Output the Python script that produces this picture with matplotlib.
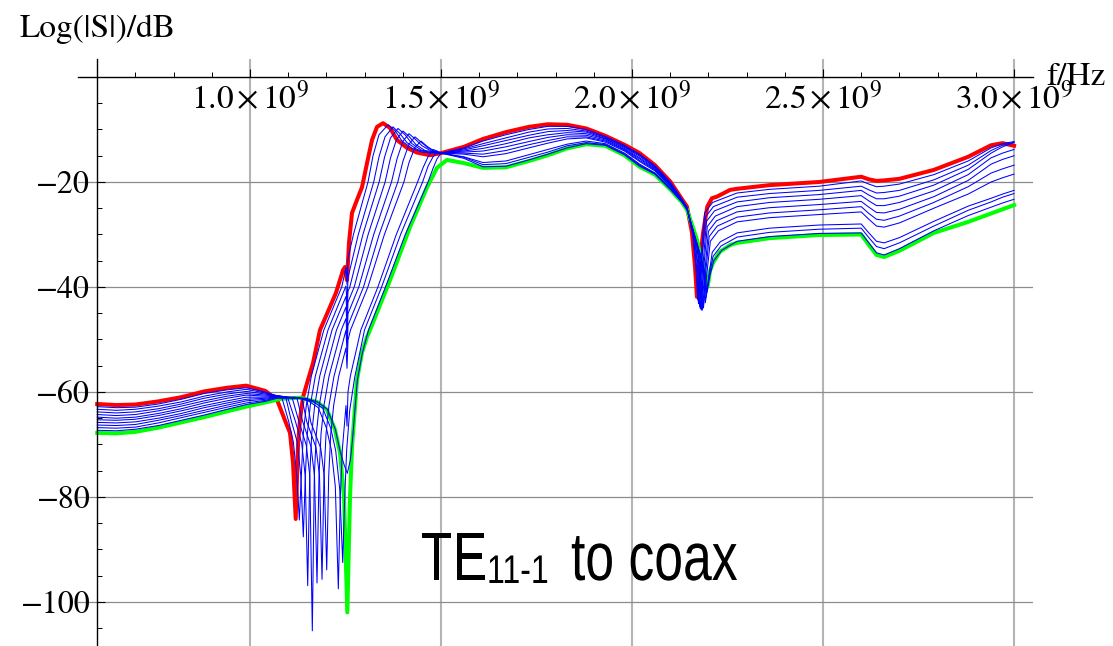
import numpy as np
import matplotlib
matplotlib.use("Agg")
from matplotlib import pyplot as plt
from matplotlib.ticker import MultipleLocator
from matplotlib.textpath import TextPath
from matplotlib.patches import PathPatch
from matplotlib.font_manager import FontProperties
from matplotlib.transforms import Affine2D

plt.rcParams['font.family'] = ['STIXGeneral', 'DejaVu Sans']
plt.rcParams['mathtext.fontset'] = 'stix'

# frequencies in GHz, levels in dB, all read off the picture
# traces: red (first), 10 blue, green (last)

# ---- 0.6 .. 1.04 GHz, common grid ----
f_low = [0.60, 0.65, 0.70, 0.76, 0.82, 0.88, 0.94, 0.99, 1.04]
red_low = [-62.3, -62.5, -62.4, -61.8, -61.0, -59.9, -59.2, -58.8, -59.8]
green_low = [-67.8, -67.9, -67.6, -66.8, -65.8, -64.8, -63.7, -62.8, -62.0]
blue_low = [
    [-62.8, -63.0, -62.9, -62.3, -61.4, -60.3, -59.6, -59.2, -60.0],
    [-63.3, -63.5, -63.3, -62.7, -61.9, -60.8, -60.0, -59.5, -60.2],
    [-63.8, -64.0, -63.8, -63.2, -62.3, -61.2, -60.4, -59.9, -60.4],
    [-64.3, -64.5, -64.3, -63.6, -62.7, -61.7, -60.8, -60.3, -60.6],
    [-64.8, -65.0, -64.8, -64.1, -63.2, -62.1, -61.2, -60.6, -60.8],
    [-65.3, -65.4, -65.2, -64.5, -63.6, -62.6, -61.7, -61.0, -61.0],
    [-65.8, -65.9, -65.7, -65.0, -64.1, -63.0, -62.1, -61.4, -61.2],
    [-66.3, -66.4, -66.2, -65.4, -64.5, -63.5, -62.5, -61.7, -61.4],
    [-66.8, -66.9, -66.7, -65.9, -64.9, -63.9, -62.9, -62.1, -61.6],
    [-67.3, -67.4, -67.1, -66.4, -65.4, -64.4, -63.3, -62.4, -61.8],
]

# ---- first notch and steep rise, 1.07 .. 1.5 GHz, own points per trace ----
red_n1_f = [1.0707, 1.0942, 1.1047, 1.1126, 1.1196, 1.1257, 1.1309, 1.1387, 1.1518, 1.1649,
            1.1832, 1.2094, 1.2251, 1.2435, 1.2487, 1.2539, 1.2592, 1.2670, 1.2801, 1.2932,
            1.3063, 1.3194, 1.3325, 1.3482, 1.3665, 1.3848, 1.4110, 1.4372, 1.4712, 1.5]
red_n1_db = [-61.5, -65.9, -67.8, -73.5, -84.2, -70.0, -65.2, -61.0, -57.7, -54.5,
             -48.2, -43.8, -41.1, -36.8, -36.2, -38.7, -31.5, -25.9, -23.4, -21.0,
             -16.4, -12.0, -9.5, -8.8, -9.7, -12.0, -13.5, -14.4, -14.9, -14.5]
green_n1_f = [1.0812, 1.1309, 1.1754, 1.2016, 1.2225, 1.2356, 1.2461, 1.2547, 1.2618, 1.2670,
              1.2801, 1.2932, 1.3063, 1.3141, 1.3665, 1.4188, 1.4634, 1.4895, 1.5157]
green_n1_db = [-61.3, -61.1, -61.9, -63.4, -67.2, -71.6, -80.0, -102.0, -80.0, -70.5,
               -57.7, -52.5, -49.5, -48.2, -38.7, -28.6, -21.0, -17.3, -15.8]
blue_n1_f = [
    [1.0707, 1.0838, 1.1008, 1.1134, 1.1225, 1.1291, 1.1343, 1.1395, 1.1474, 1.1605, 1.1932, 1.2401,
     1.2513, 1.2539, 1.2565, 1.2707, 1.3089, 1.3220, 1.3377, 1.3613, 1.3796, 1.3979, 1.4241, 1.4503, 1.5],
    [1.0707, 1.0942, 1.1081, 1.1238, 1.1330, 1.1395, 1.1448, 1.1500, 1.1579, 1.1709, 1.2042,
     1.2513, 1.2539, 1.2565, 1.2835, 1.3238, 1.3377, 1.3534, 1.3743, 1.3927, 1.4110, 1.4372, 1.4660, 1.5],
    [1.0707, 1.0987, 1.1188, 1.1353, 1.1445, 1.1510, 1.1563, 1.1615, 1.1694, 1.1825, 1.2147,
     1.2513, 1.2539, 1.2565, 1.2613, 1.2955, 1.3380, 1.3521, 1.3678, 1.3874, 1.4058, 1.4241, 1.4476, 1.4738, 1.5],
    [1.0707, 1.1107, 1.1275, 1.1474, 1.1565, 1.1631, 1.1683, 1.1736, 1.1814, 1.1945, 1.2264,
     1.2513, 1.2539, 1.2565, 1.2728, 1.3092, 1.3537, 1.3678, 1.3835, 1.4005, 1.4162, 1.4346, 1.4581, 1.5],
    [1.0707, 1.1230, 1.1377, 1.1597, 1.1688, 1.1754, 1.1806, 1.1859, 1.1937, 1.2068, 1.2390,
     1.2513, 1.2539, 1.2565, 1.2848, 1.3238, 1.3704, 1.3848, 1.4005, 1.4162, 1.4319, 1.4503, 1.4738, 1.5],
    [1.0707, 1.1361, 1.1487, 1.1728, 1.1819, 1.1885, 1.1937, 1.1990, 1.2068, 1.2199,
     1.2513, 1.2539, 1.2565, 1.2971, 1.3382, 1.3869, 1.4005, 1.4162, 1.4319, 1.4476, 1.4660, 1.4843, 1.5],
    [1.0707, 1.1484, 1.1592, 1.1851, 1.1942, 1.2008, 1.2060, 1.2113, 1.2191, 1.2322,
     1.2513, 1.2539, 1.2565, 1.2631, 1.3086, 1.3518, 1.4029, 1.4162, 1.4319, 1.4476, 1.4634, 1.4817, 1.5],
    [1.0707, 1.1178, 1.1526, 1.1788, 1.1997, 1.2128, 1.2233, 1.2312, 1.2364, 1.2416,
     1.2513, 1.2539, 1.2565, 1.2626, 1.2901, 1.3348, 1.3830, 1.4387, 1.4529, 1.4660, 1.4791, 1.4895, 1.5],
    [1.0707, 1.1309, 1.1641, 1.1903, 1.2113, 1.2243, 1.2348, 1.2427, 1.2479, 1.2531,
     1.2610, 1.2741, 1.2997, 1.3445, 1.3942, 1.4518, 1.4660, 1.4791, 1.4895, 1.5],
    [1.0707, 1.1440, 1.1762, 1.2024, 1.2233, 1.2364, 1.2469, 1.2547, 1.2626, 1.2678,
     1.2809, 1.2940, 1.3102, 1.3547, 1.4065, 1.4660, 1.4791, 1.4895, 1.5],
]
blue_n1_db = [
    [-60.8, -61.2, -65.5, -69.5, -76.0, -84.4, -76.0, -68.0, -62.5, -57.0, -48.2, -40.0,
     -36.3, -39.5, -34.6, -30.0, -20.0, -15.0, -11.0, -9.1, -10.2, -12.2, -13.6, -14.3, -14.5],
    [-60.7, -61.2, -65.5, -69.6, -76.0, -87.6, -76.0, -68.0, -62.5, -57.0, -48.2,
     -39.8, -43.5, -38.2, -30.0, -20.0, -15.2, -11.4, -9.5, -10.8, -12.5, -13.8, -14.4, -14.5],
    [-60.7, -61.1, -65.6, -69.8, -76.0, -96.9, -76.0, -68.0, -62.5, -57.0, -48.2,
     -41.8, -45.5, -40.8, -40.0, -30.0, -20.0, -15.3, -11.6, -9.8, -11.0, -12.7, -13.9, -14.4, -14.5],
    [-60.7, -61.2, -65.5, -70.2, -76.0, -105.5, -76.0, -68.0, -62.5, -57.0, -48.2,
     -43.8, -47.5, -42.9, -40.0, -30.0, -20.0, -15.4, -11.9, -10.3, -11.3, -12.9, -14.0, -14.5],
    [-60.7, -61.2, -65.6, -70.4, -76.0, -96.4, -76.0, -68.0, -62.5, -57.0, -48.2,
     -46.0, -50.0, -45.1, -40.0, -30.0, -20.0, -15.6, -12.2, -10.8, -11.8, -13.1, -14.1, -14.5],
    [-60.8, -61.3, -65.7, -70.6, -76.0, -95.7, -76.0, -68.0, -62.5, -57.0,
     -48.2, -52.5, -47.3, -40.0, -30.0, -20.0, -16.0, -12.8, -11.4, -12.4, -13.5, -14.2, -14.5],
    [-60.9, -61.3, -65.8, -70.7, -76.0, -93.9, -76.0, -68.0, -62.5, -57.0,
     -51.6, -55.5, -50.1, -48.2, -40.0, -30.0, -20.0, -16.3, -13.4, -12.2, -13.2, -14.1, -14.5],
    [-61.0, -61.0, -61.7, -63.0, -66.8, -71.0, -78.0, -97.5, -80.0, -71.0,
     -62.6, -66.5, -60.0, -57.0, -48.2, -40.0, -30.0, -20.0, -17.3, -15.2, -13.8, -14.1, -14.5],
    [-61.1, -61.1, -61.8, -63.1, -66.9, -71.2, -78.5, -92.5, -80.0, -71.0,
     -63.5, -57.2, -48.2, -40.0, -30.0, -20.0, -17.0, -15.2, -14.3, -14.5],
    [-61.2, -61.2, -61.9, -63.3, -67.1, -71.5, -74.0, -75.5, -73.0, -69.5,
     -57.8, -52.6, -48.2, -40.0, -30.0, -20.0, -17.4, -15.6, -14.5],
]

# ---- broad hump 1.56 .. 2.13 GHz, common grid ----
f_mid = [1.56, 1.61, 1.67, 1.73, 1.78, 1.83, 1.88, 1.93, 1.98, 2.02, 2.06, 2.10, 2.13]
red_mid = [-13.3, -11.8, -10.5, -9.5, -9.0, -9.1, -9.8, -11.2, -12.9, -14.5, -16.8, -19.9, -23.2]
green_mid = [-16.4, -17.3, -17.2, -16.0, -14.9, -13.6, -12.8, -13.1, -14.9, -17.1, -18.6, -21.4, -23.8]
blue_mid = [
    [-13.5, -12.2, -11.0, -10.0, -9.4, -9.4, -10.0, -11.3, -13.0, -14.7, -16.9, -20.0, -23.2],
    [-13.7, -12.7, -11.6, -10.5, -9.9, -9.8, -10.3, -11.5, -13.2, -14.9, -17.1, -20.1, -23.3],
    [-13.9, -13.1, -12.1, -11.1, -10.4, -10.2, -10.5, -11.7, -13.4, -15.1, -17.2, -20.3, -23.3],
    [-14.1, -13.6, -12.7, -11.6, -11.0, -10.6, -10.8, -11.8, -13.6, -15.4, -17.4, -20.4, -23.4],
    [-14.3, -14.1, -13.3, -12.3, -11.5, -11.0, -11.1, -12.0, -13.8, -15.6, -17.6, -20.5, -23.5],
    [-14.5, -14.7, -14.0, -12.9, -12.1, -11.4, -11.4, -12.2, -13.9, -15.9, -17.7, -20.7, -23.5],
    [-14.7, -15.2, -14.6, -13.5, -12.6, -11.8, -11.6, -12.4, -14.1, -16.1, -17.9, -20.8, -23.6],
    [-15.2, -16.3, -16.0, -14.8, -13.8, -12.8, -12.2, -12.7, -14.5, -16.6, -18.3, -21.1, -23.7],
    [-15.3, -16.7, -16.5, -15.3, -14.3, -13.1, -12.5, -12.9, -14.7, -16.8, -18.4, -21.2, -23.7],
    [-15.5, -17.1, -17.0, -15.8, -14.7, -13.5, -12.7, -13.0, -14.8, -17.0, -18.5, -21.4, -23.8],
]

# ---- second notch near 2.18 GHz ----
red_n2_f = [2.144, 2.157, 2.165, 2.170, 2.178, 2.186, 2.197, 2.209, 2.222, 2.257]
red_n2_db = [-24.7, -29.7, -36.2, -41.9, -35.0, -29.7, -24.7, -23.1, -22.8, -21.5]
green_n2_f = [2.144, 2.170, 2.182, 2.191, 2.196, 2.199, 2.204, 2.212, 2.230, 2.257]
green_n2_db = [-25.3, -31.0, -35.1, -37.3, -40.2, -39.5, -37.0, -35.4, -33.3, -32.0]
blue_n2_f = [
    [2.144, 2.159, 2.167, 2.172, 2.180, 2.190, 2.211],
    [2.144, 2.161, 2.169, 2.174, 2.182, 2.192, 2.213],
    [2.144, 2.164, 2.172, 2.177, 2.185, 2.195, 2.216],
    [2.144, 2.166, 2.174, 2.179, 2.187, 2.197, 2.218],
    [2.144, 2.169, 2.177, 2.182, 2.190, 2.200, 2.221],
    [2.144, 2.171, 2.179, 2.184, 2.192, 2.202, 2.223],
    [2.144, 2.174, 2.182, 2.187, 2.195, 2.205, 2.226],
    [2.144, 2.179, 2.187, 2.192, 2.200, 2.210, 2.231],
    [2.144, 2.181, 2.189, 2.194, 2.202, 2.212, 2.233],
    [2.144, 2.183, 2.191, 2.196, 2.204, 2.214, 2.235],
]
blue_n2_db = [
    [-24.8, -30.1, -36.3, -42.5, -35.1, -25.9, -23.9],
    [-24.9, -30.6, -36.4, -43.2, -35.8, -26.7, -24.7],
    [-24.9, -31.0, -36.5, -43.8, -36.5, -27.5, -25.5],
    [-25.0, -31.5, -36.6, -44.2, -37.1, -28.5, -26.5],
    [-25.0, -32.0, -36.7, -44.4, -37.6, -29.4, -27.4],
    [-25.1, -32.5, -36.8, -44.4, -38.0, -30.4, -28.4],
    [-25.1, -33.0, -36.9, -44.0, -38.1, -31.3, -29.3],
    [-25.2, -34.1, -37.1, -43.0, -38.4, -33.4, -31.4],
    [-25.2, -34.5, -37.2, -42.0, -38.1, -34.2, -32.2],
    [-25.3, -34.9, -37.3, -41.0, -37.8, -35.0, -33.0],
]

# ---- 2.275 .. 3.0 GHz, common grid ----
f_high = [2.275, 2.36, 2.49, 2.60, 2.62, 2.64, 2.66, 2.70, 2.79, 2.88, 2.94, 2.97, 3.00]
red_high = [-21.3, -20.6, -20.0, -19.0, -19.5, -19.8, -19.7, -19.4, -17.7, -15.2, -13.0, -12.6, -13.1]
green_high = [-31.6, -30.7, -30.1, -30.0, -32.0, -33.9, -34.3, -33.1, -29.7, -27.6, -26.0, -25.2, -24.4]
blue_high = [
    [-22.1, -21.4, -20.8, -19.8, -20.4, -20.9, -20.8, -20.4, -18.6, -16.0, -13.5, -12.7, -12.3],
    [-22.9, -22.2, -21.6, -20.8, -21.5, -22.1, -22.0, -21.6, -19.6, -16.8, -14.0, -13.0, -12.4],
    [-23.8, -23.0, -22.4, -21.6, -22.5, -23.2, -23.2, -22.7, -20.6, -17.6, -14.5, -13.3, -12.5],
    [-24.7, -23.9, -23.3, -22.6, -23.6, -24.5, -24.5, -23.9, -21.7, -18.6, -15.4, -14.5, -13.8],
    [-25.7, -24.9, -24.3, -23.7, -24.8, -25.8, -25.9, -25.2, -22.8, -19.7, -16.6, -15.7, -15.0],
    [-26.7, -25.9, -25.3, -24.7, -26.0, -27.1, -27.3, -26.5, -23.9, -20.9, -18.3, -17.5, -16.8],
    [-27.6, -26.8, -26.2, -25.7, -27.1, -28.4, -28.6, -27.8, -25.0, -22.3, -20.0, -19.2, -18.5],
    [-29.7, -28.8, -28.2, -28.0, -29.7, -31.3, -31.6, -30.6, -27.5, -24.6, -23.1, -22.3, -21.6],
    [-30.5, -29.6, -29.0, -28.8, -30.6, -32.3, -32.7, -31.6, -28.4, -25.4, -23.8, -22.9, -22.2],
    [-31.3, -30.4, -29.8, -29.7, -31.6, -33.5, -33.9, -32.7, -29.3, -26.4, -24.8, -24.0, -23.3],
]

x_major = [1.0, 1.5, 2.0, 2.5, 3.0]
x_labels = [r'$1.0\,{\times}\,10^{9}$', r'$1.5\,{\times}\,10^{9}$', r'$2.0\,{\times}\,10^{9}$',
            r'$2.5\,{\times}\,10^{9}$', r'$3.0\,{\times}\,10^{9}$']
y_major = [-100, -80, -60, -40, -20]
y_labels = ['\u2212100', '\u221280', '\u221260', '\u221240', '\u221220']


def trace(low, n1_f, n1_db, mid, n2_f, n2_db, high):
    f = list(f_low) + list(n1_f) + list(f_mid) + list(n2_f) + list(f_high)
    db = list(low) + list(n1_db) + list(mid) + list(n2_db) + list(high)
    return np.array(f) * 1e9, np.array(db)


W, H = 1113, 646
fig = plt.figure(figsize=(W / 100, H / 100), dpi=100)
ax = fig.add_axes([78 / W, 0, 955 / W, 587 / H])
ax.set_xlim(0.5497e9, 3.0497e9)
ax.set_ylim(-108.4, 3.43)

for x in x_major:
    ax.axvline(x * 1e9, color='#b4b4b4', lw=1.5, zorder=0)
for y in y_major:
    ax.axhline(y, color='#8c8c8c', lw=0.9, zorder=0)

fr, dr = trace(red_low, red_n1_f, red_n1_db, red_mid, red_n2_f, red_n2_db, red_high)
ax.plot(fr, dr, color='#ff0000', lw=2.9, zorder=2)
fg, dg = trace(green_low, green_n1_f, green_n1_db, green_mid, green_n2_f, green_n2_db, green_high)
ax.plot(fg, dg, color='#00ff00', lw=2.9, zorder=2)
for k in range(len(blue_low)):
    fb, db = trace(blue_low[k], blue_n1_f[k], blue_n1_db[k], blue_mid[k],
                   blue_n2_f[k], blue_n2_db[k], blue_high[k])
    ax.plot(fb, db, color='#0000ff', lw=0.75, zorder=3)

# axes crossing at (0.6e9, 0) like the original
ax.spines['top'].set_visible(False)
ax.spines['right'].set_visible(False)
ax.spines['left'].set_position(('data', 0.6e9))
ax.spines['bottom'].set_position(('data', 0))
for s in ['left', 'bottom']:
    ax.spines[s].set_linewidth(1.0)
    ax.spines[s].set_zorder(4)

ax.set_xticks([x * 1e9 for x in x_major])
ax.set_xticklabels(x_labels)
ax.xaxis.set_minor_locator(MultipleLocator(0.1e9))
ax.set_yticks(y_major)
ax.set_yticklabels(y_labels)
ax.yaxis.set_minor_locator(MultipleLocator(5))
ax.tick_params(axis='both', which='major', direction='in', length=6, width=0.8)
ax.tick_params(axis='both', which='minor', direction='in', length=3.5, width=0.7)
ax.tick_params(axis='x', which='major', pad=4, labelsize=24)
ax.tick_params(axis='y', which='major', pad=5, labelsize=23)

fig.text(20 / W, 1 - 37 / H, 'Log(|S|)/dB', fontsize=24, va='baseline')
fig.text(1046 / W, 1 - 85 / H, 'f/Hz', fontsize=24, va='baseline')


# annotation is set in a narrow sans face; no narrow font here, so squeeze the outline
def narrow_text(s, x_px, base_px, size_px, sx=0.76):
    path = TextPath((0, 0), s, size=size_px, prop=FontProperties(family='Liberation Sans'))
    tr = Affine2D().scale(sx, 1.0).translate(x_px, H - base_px)
    fig.add_artist(PathPatch(path, transform=tr, facecolor='black', edgecolor='none'))


narrow_text('TE', 421, 580, 68)
narrow_text('11-1', 487, 583, 40, sx=0.8)
narrow_text('to coax', 571, 580, 68)

fig.savefig('out.png', dpi=100)
